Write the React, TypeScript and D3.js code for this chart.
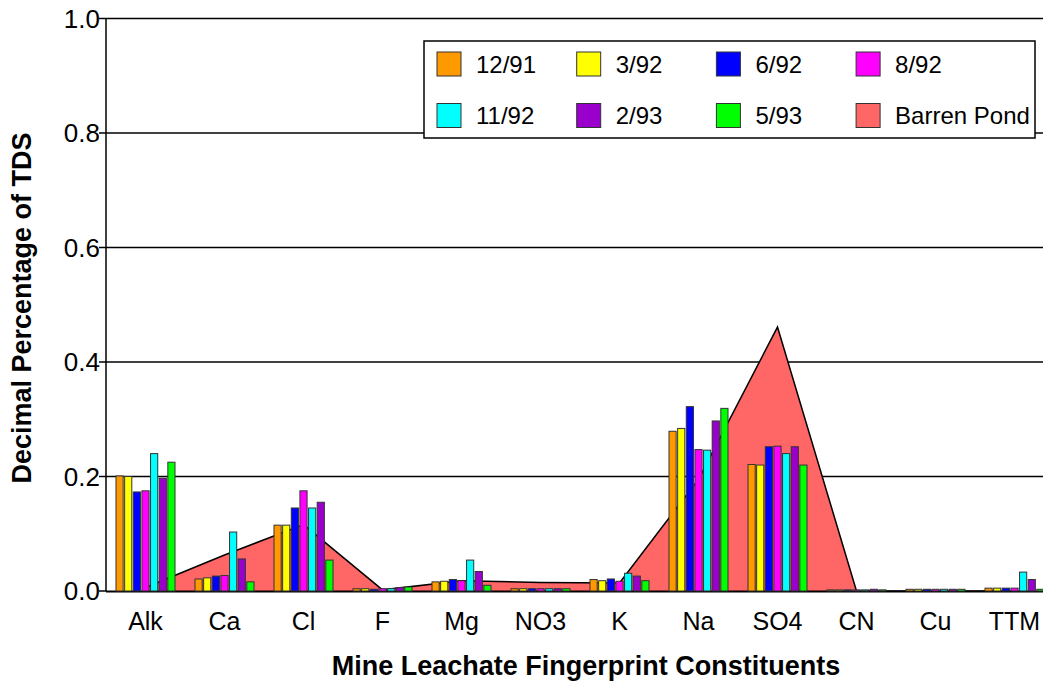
import React from "react";
import * as d3 from "d3";

const categories = ["Alk", "Ca", "Cl", "F", "Mg", "NO3", "K", "Na", "SO4", "CN", "Cu", "TTM"];
const seriesNames = ["12/91", "3/92", "6/92", "8/92", "11/92", "2/93", "5/93"];
const seriesColors = ["#FF9900", "#FFFF00", "#0000FF", "#FF00FF", "#00FFFF", "#9900CC", "#00FF00"];

const s1291 = [0.201, 0.021, 0.115, 0.004, 0.016, 0.004, 0.02, 0.279, 0.221, 0.002, 0.003, 0.005];
const s392 = [0.2, 0.023, 0.115, 0.004, 0.017, 0.004, 0.018, 0.284, 0.22, 0.002, 0.003, 0.005];
const s692 = [0.173, 0.026, 0.145, 0.003, 0.02, 0.004, 0.021, 0.322, 0.252, 0.002, 0.003, 0.005];
const s892 = [0.175, 0.027, 0.175, 0.004, 0.018, 0.004, 0.017, 0.247, 0.253, 0.002, 0.003, 0.005];
const s1192 = [0.24, 0.103, 0.145, 0.004, 0.054, 0.004, 0.031, 0.246, 0.24, 0.002, 0.003, 0.033];
const s293 = [0.197, 0.056, 0.155, 0.006, 0.034, 0.004, 0.026, 0.297, 0.252, 0.003, 0.003, 0.02];
const s593 = [0.225, 0.016, 0.054, 0.007, 0.01, 0.004, 0.018, 0.319, 0.22, 0.002, 0.003, 0.003];
const barrenPond = [0.006, 0.063, 0.116, 0.002, 0.018, 0.015, 0.014, 0.195, 0.461, 0.0, 0.0, 0.0];

const seriesValues = [s1291, s392, s692, s892, s1192, s293, s593];
const yTicks = [0, 0.2, 0.4, 0.6, 0.8, 1.0];
const barrenName = "Barren Pond";
const barrenColor = "#FF6666";

const W = 1043;
const H = 682;
const left = 106;
const bottom = 591;
const top = 18.5;
const band = 79;

export default function App() {
  const x = d3.scaleBand<string>().domain(categories).range([left, left + band * categories.length]).padding(0);
  const y = d3.scaleLinear().domain([0, 1]).range([bottom, top]);
  const inner = d3.scaleBand<string>().domain(seriesNames).range([-29.5, 29.5]).paddingInner(0.17);
  const cx = (c: string) => (x(c) as number) + x.bandwidth() / 2;

  const area = d3
    .area<number>()
    .x((_, i) => cx(categories[i]))
    .y0(y(0))
    .y1((d) => y(d));
  const line = d3
    .line<number>()
    .x((_, i) => cx(categories[i]))
    .y((d) => y(d));

  const font = "'Liberation Sans', Arial, sans-serif";
  const legendItems = [
    ...seriesNames.map((n, i) => ({ name: n, color: seriesColors[i] })),
    { name: barrenName, color: barrenColor },
  ];

  return (
    <svg width={W} height={H} style={{ position: "absolute", left: 0, top: 0, background: "#fff" }} fontFamily={font}>
      {yTicks.filter((t) => t > 0).map((t) => (
        <line key={t} x1={left} x2={W + 20} y1={y(t)} y2={y(t)} stroke="#000" strokeWidth={1.5} />
      ))}
      <path d={area(barrenPond) || ""} fill={barrenColor} />
      <path d={line(barrenPond) || ""} fill="none" stroke="#000" strokeWidth={1.5} />
      <line x1={left} x2={W + 20} y1={bottom + 0.5} y2={bottom + 0.5} stroke="#000" strokeWidth={2} />
      {seriesValues.map((vals, si) =>
        vals.map((v, ci) => {
          const bx = cx(categories[ci]) + (inner(seriesNames[si]) as number);
          return (
            <rect
              key={`${si}-${ci}`}
              x={bx}
              y={y(v)}
              width={inner.bandwidth()}
              height={y(0) - y(v)}
              fill={seriesColors[si]}
              stroke="#333"
              strokeWidth={1}
            />
          );
        })
      )}
      <line x1={left} x2={left} y1={top} y2={bottom} stroke="#000" strokeWidth={1.5} />
      {yTicks.map((t) => (
        <g key={t}>
          <line x1={left - 7} x2={left} y1={y(t)} y2={y(t)} stroke="#000" strokeWidth={1.5} />
          <text x={left - 6} y={y(t)} dy="0.36em" textAnchor="end" fontSize={26} fill="#000">
            {t.toFixed(1)}
          </text>
        </g>
      ))}
      {categories.map((c) => (
        <text key={c} x={cx(c)} y={630} textAnchor="middle" fontSize={25} fill="#000">
          {c}
        </text>
      ))}
      <text x={586} y={675} textAnchor="middle" fontSize={27} fontWeight="bold" fill="#000">
        Mine Leachate Fingerprint Constituents
      </text>
      <text
        transform={`translate(31, 308) rotate(-90)`}
        textAnchor="middle"
        fontSize={27}
        fontWeight="bold"
        fill="#000"
      >
        Decimal Percentage of TDS
      </text>
      <rect x={424} y={41} width={611} height={97} fill="#fff" stroke="#000" strokeWidth={1.5} />
      {legendItems.map((it, i) => {
        const col = i % 4;
        const row = Math.floor(i / 4);
        const lx = 437 + col * 139.7;
        const ly = 52 + row * 51.5;
        return (
          <g key={it.name}>
            <rect x={lx} y={ly} width={24} height={24} fill={it.color} stroke="#333" strokeWidth={1} />
            <text x={lx + 39} y={ly + 12} dy="0.36em" fontSize={24} fill="#000">
              {it.name}
            </text>
          </g>
        );
      })}
    </svg>
  );
}
